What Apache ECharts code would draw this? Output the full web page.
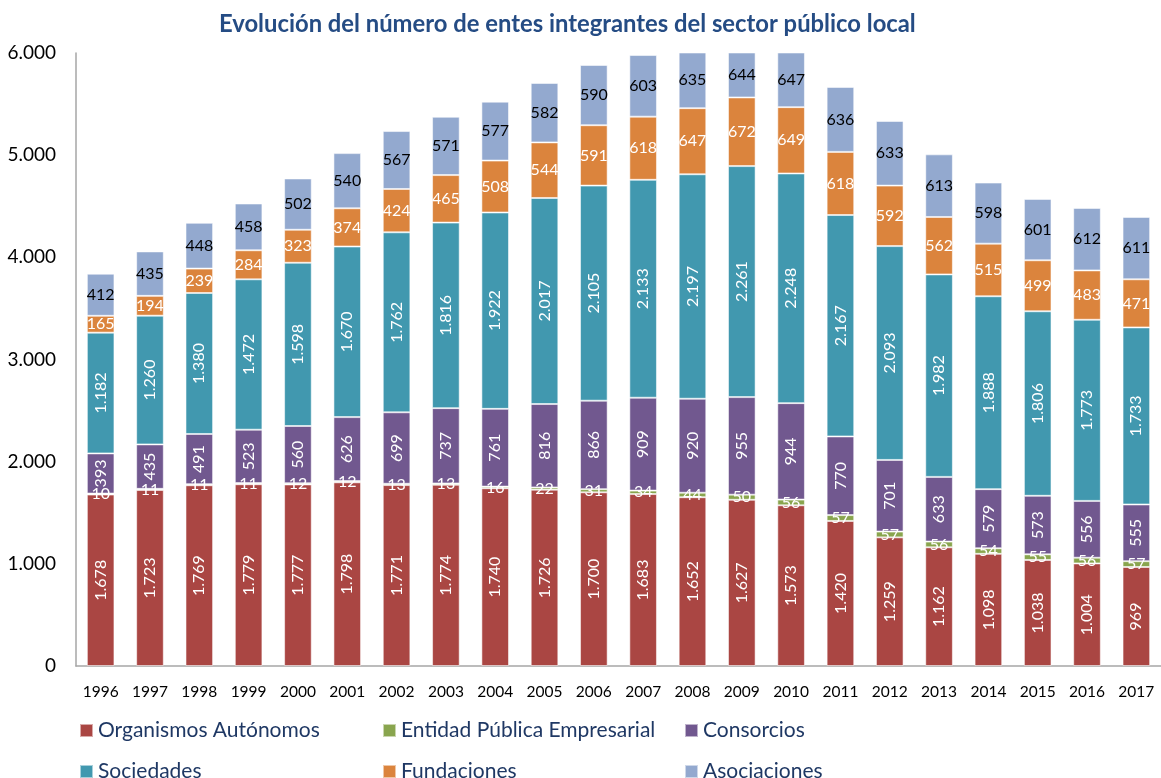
<!DOCTYPE html>
<html>
<head>
<meta charset="utf-8">
<script src="https://cdn.jsdelivr.net/npm/echarts@6/dist/echarts.min.js"></script>
<style>
  html, body { margin: 0; padding: 0; background: #fff; }
  #chart { width: 1161px; height: 778px; }
</style>
</head>
<body>
<div id="chart"></div>
<script>
const years = ['1996', '1997', '1998', '1999', '2000', '2001', '2002', '2003', '2004', '2005', '2006',
  '2007', '2008', '2009', '2010', '2011', '2012', '2013', '2014', '2015', '2016', '2017']
const organismos = [1678, 1723, 1769, 1779, 1777, 1798, 1771, 1774, 1740, 1726, 1700, 1683, 1652, 1627, 1573, 1420, 1259, 1162, 1098, 1038, 1004, 969]
const entidades = [10, 11, 11, 11, 12, 12, 13, 13, 16, 22, 31, 34, 44, 50, 56, 57, 57, 56, 54, 55, 56, 57]
const consorcios = [393, 435, 491, 523, 560, 626, 699, 737, 761, 816, 866, 909, 920, 955, 944, 770, 701, 633, 579, 573, 556, 555]
const sociedades = [1182, 1260, 1380, 1472, 1598, 1670, 1762, 1816, 1922, 2017, 2105, 2133, 2197, 2261, 2248, 2167, 2093, 1982, 1888, 1806, 1773, 1733]
const fundaciones = [165, 194, 239, 284, 323, 374, 424, 465, 508, 544, 591, 618, 647, 672, 649, 618, 592, 562, 515, 499, 483, 471]
const asociaciones = [412, 435, 448, 458, 502, 540, 567, 571, 577, 582, 590, 603, 635, 644, 647, 636, 633, 613, 598, 601, 612, 611]
const yTicks = [0, 1000, 2000, 3000, 4000, 5000, 6000]

const font = 'Lato'
// separador de miles con punto
const fmt = (v) => String(v).replace(/\B(?=(\d{3})+(?!\d))/g, '.')

const chart = echarts.init(document.getElementById('chart'))

// cada serie: nombre, datos, color, etiqueta vertical?, color de texto
const defs = [
  { name: 'Organismos Autónomos', data: organismos, color: '#AA4643', rotate: true, text: '#fff' },
  { name: 'Entidad Pública Empresarial', data: entidades, color: '#89A54E', rotate: false, text: '#fff' },
  { name: 'Consorcios', data: consorcios, color: '#71588F', rotate: true, text: '#fff' },
  { name: 'Sociedades', data: sociedades, color: '#4198AF', rotate: true, text: '#fff' },
  { name: 'Fundaciones', data: fundaciones, color: '#DB843D', rotate: false, text: '#fff' },
  { name: 'Asociaciones', data: asociaciones, color: '#93A9CF', rotate: false, text: '#000' }
]

const series = defs.map((d) => ({
  name: d.name,
  type: 'bar',
  stack: 'total',
  barWidth: '56%',
  data: d.data,
  itemStyle: {
    color: d.color,
    borderColor: 'rgba(255,255,255,0.55)',
    borderWidth: 1
  },
  label: {
    show: true,
    position: 'inside',
    rotate: d.rotate ? 90 : 0,
    color: d.text,
    fontFamily: font,
    fontSize: 16,
    formatter: (p) => fmt(p.value)
  }
}))

// leyenda en dos filas y tres columnas
const legendPos = [
  [79, 720], [382, 720], [684, 720],
  [79, 761], [382, 761], [684, 761]
]
const legends = defs.map((d, i) => ({
  data: [d.name],
  left: legendPos[i][0],
  top: legendPos[i][1],
  padding: 0,
  icon: 'rect',
  itemWidth: 13,
  itemHeight: 13,
  selectedMode: false,
  textStyle: { fontFamily: font, fontSize: 21, color: '#1F3864' }
}))

const option = {
  animation: false,
  title: {
    text: 'Evolución del número de entes integrantes del sector público local',
    left: 214,
    top: 7,
    textStyle: { fontFamily: font, fontSize: 23.8, fontWeight: 'bold', color: '#254C84' }
  },
  legend: legends,
  grid: { left: 76, right: -4, top: 53, bottom: 112 },
  xAxis: {
    type: 'category',
    data: years,
    axisLine: { lineStyle: { color: '#A6A6A6', width: 1.5 } },
    axisTick: { show: false },
    axisLabel: { fontFamily: font, fontSize: 15.5, color: '#000', margin: 18 }
  },
  yAxis: {
    type: 'value',
    min: yTicks[0],
    max: yTicks[yTicks.length - 1],
    interval: yTicks[1] - yTicks[0],
    axisLine: { show: true, lineStyle: { color: '#A6A6A6', width: 1.5 } },
    axisTick: { show: false },
    splitLine: { show: false },
    axisLabel: { fontFamily: font, fontSize: 19, color: '#000', margin: 20, formatter: (v) => fmt(v) }
  },
  series
}

chart.setOption(option)
</script>
</body>
</html>
